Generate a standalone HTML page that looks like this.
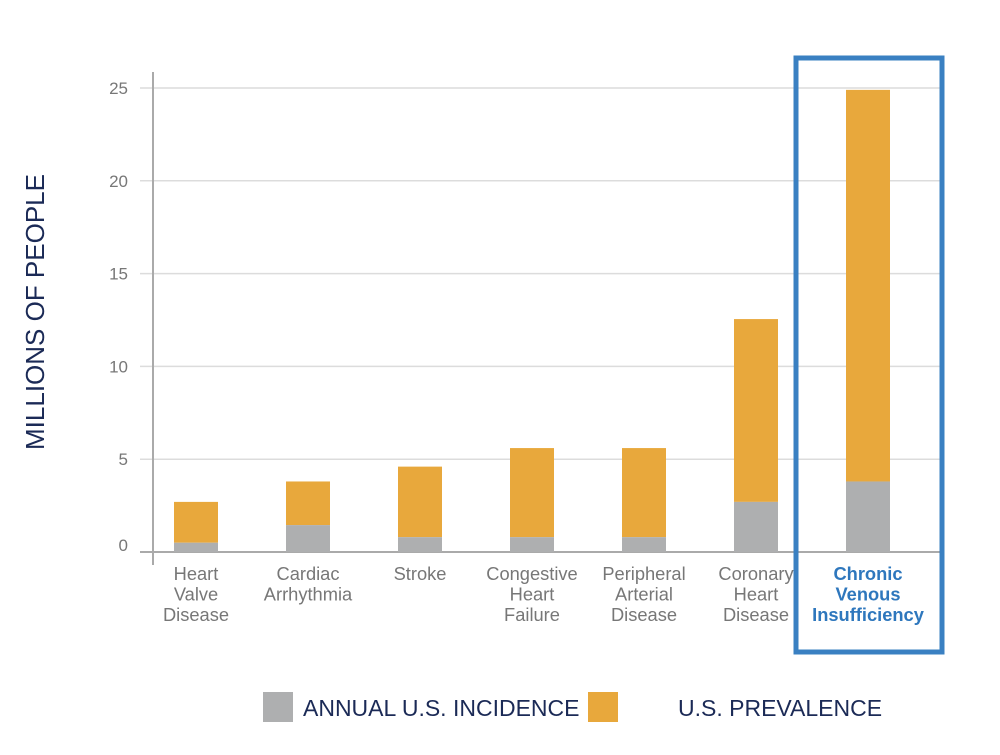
<!DOCTYPE html>
<html><head><meta charset="utf-8"><style>
body{margin:0;background:#fff;width:1000px;height:750px;overflow:hidden;font-family:"Liberation Sans",sans-serif}
</style></head><body>
<svg id="chart" width="1000" height="750" xmlns="http://www.w3.org/2000/svg" font-family="Liberation Sans, sans-serif"></svg>
<script>
const categories=[["Heart","Valve","Disease"],["Cardiac","Arrhythmia"],["Stroke"],["Congestive","Heart","Failure"],["Peripheral","Arterial","Disease"],["Coronary","Heart","Disease"],["Chronic","Venous","Insufficiency"]];
const incidence=[0.5,1.45,0.8,0.8,0.8,2.7,3.8];
const prevalence=[2.7,3.8,4.6,5.6,5.6,12.55,24.9];
const yTicks=[0,5,10,15,20,25];
const highlightIndex=6;

const svg=document.getElementById('chart');
const NS='http://www.w3.org/2000/svg';
function y(v){return 552-v*18.56;}
function xc(i){return 196+i*112;}
function mk(tag,attrs,parent){const e=document.createElementNS(NS,tag);for(const k in attrs)e.setAttribute(k,attrs[k]);(parent||svg).appendChild(e);return e;}

yTicks.forEach(t=>{
  if(t>0){const g=mk('line',{x1:140,x2:940,y1:y(t),y2:y(t),stroke:'#dcdcdc','stroke-width':1.5});
  
  }
  const l=mk('text',{x:128,y:y(t)+(t===0?-1:6),'text-anchor':'end','font-size':17,fill:'#777'});
  l.textContent=t;
  
  
});
const ax=mk('line',{x1:153,x2:153,y1:72,y2:565,stroke:'#aaa','stroke-width':2});


const bx=mk('line',{x1:140,x2:940,y1:552,y2:552,stroke:'#aaa','stroke-width':2});



categories.forEach((c,i)=>{
  const w=44,x0=xc(i)-w/2;
  const p=mk('rect',{x:x0,y:y(prevalence[i]),width:w,height:y(incidence[i])-y(prevalence[i]),fill:'#e8a83c'});
  
  
  const n=mk('rect',{x:x0,y:y(incidence[i]),width:w,height:y(0)-y(incidence[i]),fill:'#aeafb0'});
  
  
  const hl=i===highlightIndex;
  const t=mk('text',{x:xc(i),'text-anchor':'middle','font-size':18.3,fill:hl?'#2e77bd':'#777','font-weight':hl?'bold':'normal'});
  
  
  c.forEach((line,j)=>{const s=mk('tspan',{x:xc(i),y:580+j*20.5},t);s.textContent=line;});
});
const box=mk('rect',{x:796,y:58,width:146,height:594,fill:'none',stroke:'#3a80c2','stroke-width':5});



const yt=mk('text',{x:0,y:0,transform:'translate(44,312) rotate(-90)','text-anchor':'middle','font-size':26,fill:'#1b2a56'});
yt.textContent='MILLIONS OF PEOPLE';



const l1=mk('rect',{x:263,y:692,width:30,height:30,fill:'#aeafb0'});


const t1=mk('text',{x:303,y:716,'font-size':23,fill:'#1b2a56'});
t1.textContent='ANNUAL U.S. INCIDENCE';


const l2=mk('rect',{x:588,y:692,width:30,height:30,fill:'#e8a83c'});


const t2=mk('text',{x:678,y:716,'font-size':23,fill:'#1b2a56'});
t2.textContent='U.S. PREVALENCE';


</script>
</body></html>
